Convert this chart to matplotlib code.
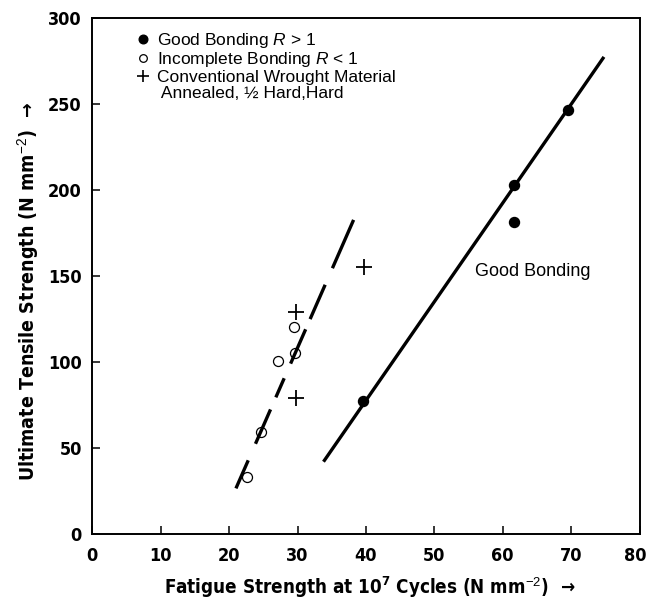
import matplotlib
matplotlib.use('Agg')
import matplotlib.pyplot as plt
import matplotlib.transforms as mtransforms
from matplotlib.lines import Line2D
from matplotlib import font_manager
from matplotlib.font_manager import FontProperties

# ---- data ----
good_x = [39.6, 61.7, 61.7, 69.6]
good_y = [77.5, 203.0, 181.6, 246.5]
incomplete_x = [22.6, 24.7, 27.2, 29.6, 29.5]
incomplete_y = [33.1, 59.3, 100.9, 105.5, 120.3]
wrought_x = [29.8, 29.8, 39.7]
wrought_y = [79.0, 129.0, 155.5]
good_line_x = [33.8, 74.8]
good_line_y = [42.2, 277.4]
incomplete_line_x = [38.2, 21.0]
incomplete_line_y = [182.7, 26.7]
x_ticks = [0, 10, 20, 30, 40, 50, 60, 70, 80]
y_ticks = [0, 50, 100, 150, 200, 250, 300]
legend_labels = ['Good Bonding $R$ > 1', 'Incomplete Bonding $R$ < 1',
                 'Conventional Wrought Material', ' Annealed, \u00bd Hard,Hard']
annotation_text = 'Good Bonding'
annotation_pos = (55.9, 153)

names = {f.name for f in font_manager.fontManager.ttflist}
regular = 'Liberation Sans' if 'Liberation Sans' in names else 'DejaVu Sans'

# look for a condensed / narrow bold face for the bold axis texts
cond_path = None
prefs = ['liberationsansnarrow-bold.', 'dejavusanscondensed-bold.', 'condensed-bold', 'narrow-bold',
         'condensedbold', 'narrowbold']
files = [f.fname for f in font_manager.fontManager.ttflist]
for p in prefs:
    for fn in files:
        low = fn.lower().split('/')[-1]
        if p in low and 'italic' not in low and 'oblique' not in low:
            cond_path = fn
            break
    if cond_path:
        break

if cond_path:
    def boldfp(size):
        return FontProperties(fname=cond_path, size=size)
    scale = 1.0
else:
    def boldfp(size):
        return FontProperties(family=[regular, 'DejaVu Sans'], weight='bold', size=size)
    scale = 0.9

plt.rcParams['font.family'] = [regular, 'DejaVu Sans']
plt.rcParams['mathtext.fontset'] = 'custom'
plt.rcParams['mathtext.rm'] = regular
plt.rcParams['mathtext.it'] = regular + ':italic'
plt.rcParams['mathtext.bf'] = regular + ':bold'
plt.rcParams['lines.scale_dashes'] = False

fig = plt.figure(figsize=(6.49, 6.02), dpi=100)
ax = fig.add_axes([0.1422, 0.1124, 0.8432, 0.8577])

ax.plot(good_line_x, good_line_y, color='black', lw=2.4, solid_capstyle='butt')
ax.plot(incomplete_line_x, incomplete_line_y, color='black', lw=2.4,
        dash_capstyle='butt',
        dashes=[38, 13, 27, 8, 27, 11.5, 15, 9.5, 27, 13])

ax.plot(good_x, good_y, 'o', color='black', ms=7.2, ls='none')
ax.plot(incomplete_x, incomplete_y, 'o', mfc='none', mec='black', mew=0.9, ms=7.2, ls='none')
ax.plot(wrought_x, wrought_y, '+', color='black', ms=11, mew=1.3, ls='none')

ax.text(annotation_pos[0], annotation_pos[1], annotation_text, fontsize=13,
        ha='left', va='center')

handles = [
    Line2D([], [], marker='o', color='black', ls='none', ms=6.2),
    Line2D([], [], marker='o', mfc='none', mec='black', mew=0.9, ls='none', ms=5.5),
    Line2D([], [], marker='+', color='black', ls='none', ms=9, mew=1.2),
    Line2D([], [], ls='none'),
]
ax.legend(handles, legend_labels, loc='upper left', bbox_to_anchor=(0.078, 0.975),
          frameon=False, fontsize=12.5, handlelength=0.9, handletextpad=0.35,
          labelspacing=0.03, borderpad=0.0, borderaxespad=0.0)

ax.set_xlim(0, 80)
ax.set_ylim(0, 300)
ax.set_xticks(x_ticks)
ax.set_yticks(y_ticks)
ax.tick_params(direction='in', length=6, width=1.1, top=False, right=False)
ax.tick_params(axis='x', pad=9)
ax.tick_params(axis='y', pad=7.5)
for lab in ax.get_xticklabels() + ax.get_yticklabels():
    lab.set_fontproperties(boldfp(13 * scale))
last = ax.get_xticklabels()[-1]
last.set_transform(last.get_transform() +
                   mtransforms.ScaledTranslation(-3 / 72, 0, fig.dpi_scale_trans))
for sp in ax.spines.values():
    sp.set_linewidth(1.4)

ax.set_xlabel('Fatigue Strength at $\\mathregular{10^7}$ Cycles (N mm$^{-2}$)  \u2192',
              fontproperties=boldfp(13.5 * scale))
ax.set_ylabel('Ultimate Tensile Strength (N mm$^{-2}$)  \u2192',
              fontproperties=boldfp(14 * scale))
ax.xaxis.set_label_coords(0.507, -0.078)
ax.yaxis.set_label_coords(-0.094, 0.471)

fig.savefig('out.png', dpi=100)
